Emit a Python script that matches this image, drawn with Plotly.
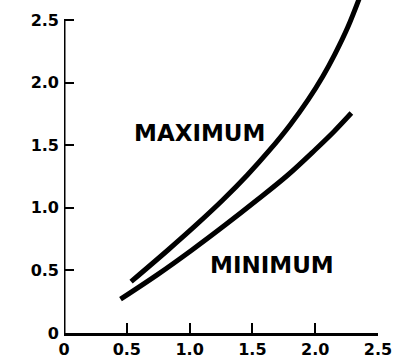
import plotly.graph_objects as go

# curves
max_x = [0.534, 0.828, 1.05, 1.266, 1.46, 1.640, 1.80, 1.943, 2.06, 2.158, 2.26, 2.35]
max_y = [0.41, 0.663, 0.861, 1.064, 1.262, 1.464, 1.662, 1.862, 2.049, 2.23, 2.444, 2.67]
min_x = [0.45, 0.75, 1.019, 1.28, 1.537, 1.78, 1.998, 2.15, 2.288]
min_y = [0.27, 0.47, 0.663, 0.86, 1.062, 1.26, 1.462, 1.61, 1.757]

tick_vals = [0, 0.5, 1.0, 1.5, 2.0, 2.5]
tick_text = ["0", "0.5", "1.0", "1.5", "2.0", "2.5"]

font = dict(family="DejaVu Sans", size=16, color="black", weight="bold")
label_font = dict(family="DejaVu Sans", size=23, color="black", weight="bold")

fig = go.Figure()
fig.add_trace(go.Scatter(x=max_x, y=max_y, mode="lines", line_shape="spline",
                         line=dict(color="black", width=5)))
fig.add_trace(go.Scatter(x=min_x, y=min_y, mode="lines", line_shape="spline",
                         line=dict(color="black", width=5)))

# y axis line stops at 2.5, curve runs past it
fig.add_shape(type="line", x0=0, x1=0, y0=0, y1=2.5, xref="x", yref="y",
              line=dict(color="black", width=3))

fig.add_annotation(x=1.08, y=1.597, text="MAXIMUM", showarrow=False, font=label_font)
fig.add_annotation(x=1.656, y=0.543, text="MINIMUM", showarrow=False, font=label_font)

fig.update_xaxes(range=[0, 2.5], tickvals=tick_vals, ticktext=tick_text,
                 showgrid=False, zeroline=False, showline=True, linecolor="black",
                 linewidth=3, ticks="inside", ticklen=10, tickwidth=2,
                 tickcolor="black", tickfont=font, automargin=False)
fig.update_yaxes(range=[0, 2.66], tickvals=tick_vals, ticktext=tick_text,
                 showgrid=False, zeroline=False, showline=False,
                 ticks="inside", ticklen=10, tickwidth=2,
                 tickcolor="black", tickfont=font, ticklabelstandoff=4,
                 automargin=False)
fig.update_layout(width=396, height=359, showlegend=False,
                  margin=dict(l=64, r=18, t=0, b=26),
                  plot_bgcolor="white", paper_bgcolor="white")

# page body margin would push the figure 8px off
fig.write_html("out.html", config={"displayModeBar": False},
               post_script="document.body.style.margin='0';")
